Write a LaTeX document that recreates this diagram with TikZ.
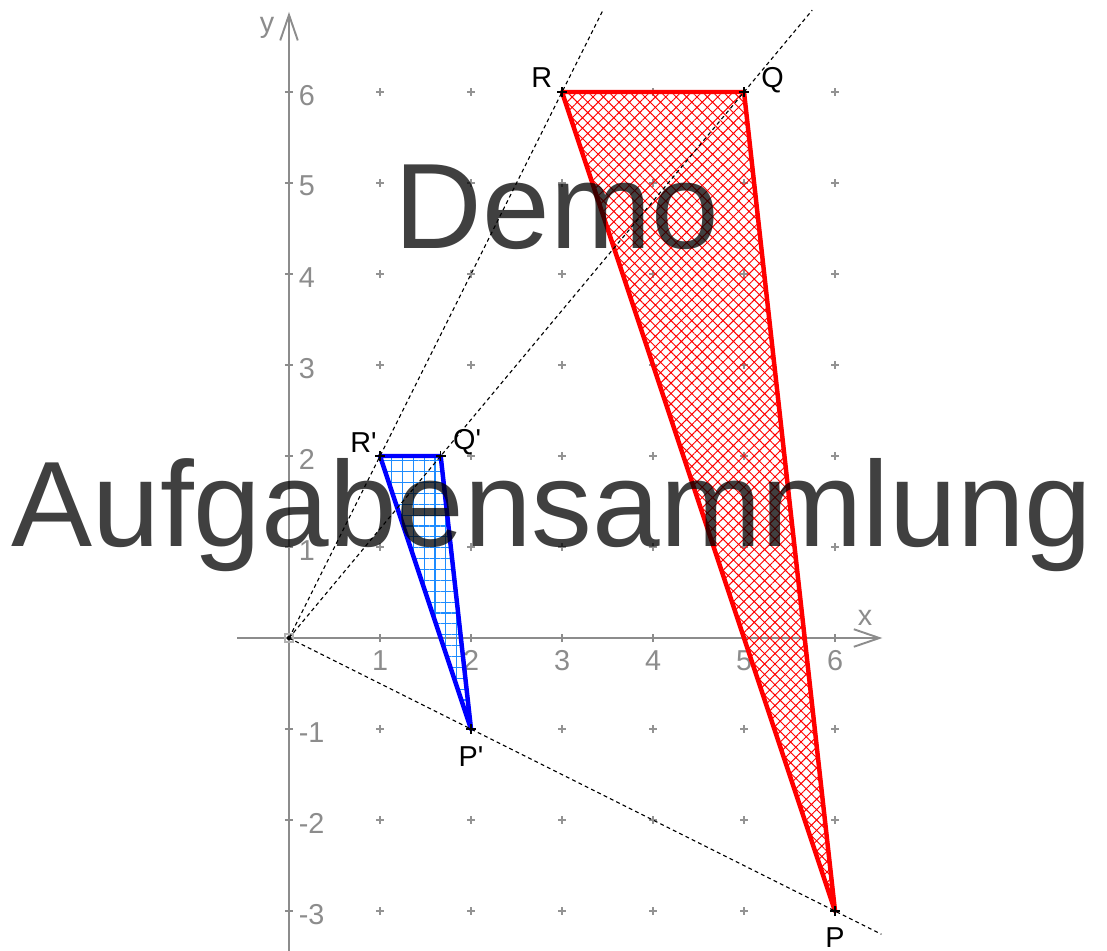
\documentclass[tikz,border=0pt]{standalone}
\usepackage{fontspec}
\setmainfont{Liberation Sans}
\usetikzlibrary{arrows.meta,positioning,calc,patterns.meta}

\begin{document}
\begin{tikzpicture}[font=\fontsize{9}{10}\selectfont,
  axis/.style={draw=gray!90,line width=.6pt,-{Straight Barb[length=8pt,width=5.5pt]}},
  axtick/.style={gray!90,line width=.5pt},
  gridmark/.style={gray!85,line width=.45pt},
  num/.style={text=gray!90,inner sep=0pt},
  lab/.style={inner sep=0pt},
  ray/.style={black,line width=.35pt,dash pattern=on 1.2pt off 1pt},
  ptmark/.style={black,line width=.5pt},
  orig/.style={red,line width=1.4pt,line join=round,pattern={Hatch[angle=45,distance=2.3pt,line width=.3pt]},pattern color=red},
  img/.style={blue,line width=1.4pt,line join=round,pattern={Hatch[angle=0,distance=3.4pt,line width=.35pt]},pattern color={rgb,255:red,30;green,140;blue,255}},
  wm/.style={font=\fontsize{38}{40}\selectfont,text=black,text opacity=.75,inner sep=0pt,anchor=base}]
\useasboundingbox (-3.176,-3.429) rectangle (8.989,7.011);
% grid points
\foreach \x in {1,...,6} \foreach \y in {-3,...,6} {
  \ifnum\y=0\else \draw[gridmark] (\x,\y) +(-.04,0) -- +(.04,0) (\x,\y) +(0,-.04) -- +(0,.04); \fi}
% axes
\coordinate (O) at (0,0);
\coordinate (xl) at (-.57,0); \coordinate (xr) at (6.52,0);
\coordinate (yb) at (0,-3.45); \coordinate (yt) at (0,6.88);
\draw[axis] (xl) -- (xr); \draw[axis] (yb) -- (yt);
\foreach \x in {1,...,6} {\draw[axtick] (\x,-.045) -- (\x,.045); \node[num,anchor=north] at (\x,-.13) {\x};}
\foreach \y in {-3,-2,-1,1,2,3,4,5,6} {\draw[axtick] (-.045,\y) -- (.045,\y); \node[num,anchor=west] at (.1,\y-.035) {\y};}
\node[num] (xname) at (6.33,.22) {x};
\node[num] (yname) at (-.24,6.70) {y};
\draw[gray!60,line width=.4pt] (O) +(-.045,-.045) rectangle +(.045,.045);
\fill (O) circle (.025);
% triangles
\coordinate (P) at (6,-3); \coordinate (Q) at (5,6); \coordinate (R) at (3,6);
\coordinate (Ps) at ($(O)!1/3!(P)$); \coordinate (Qs) at ($(O)!1/3!(Q)$); \coordinate (Rs) at ($(O)!1/3!(R)$);
\draw[orig] (P) -- (Q) -- (R) -- cycle;
\draw[img] (Ps) -- (Qs) -- (Rs) -- cycle;
% rays through the centre
\coordinate (Pend) at ($(O)!1.085!(P)$); \coordinate (Qend) at ($(O)!1.15!(Q)$); \coordinate (Rend) at ($(O)!1.15!(R)$);
\draw[ray] (O) -- (Pend); \draw[ray] (O) -- (Qend); \draw[ray] (O) -- (Rend);
\foreach \p in {P,Q,R,Ps,Qs,Rs} \draw[ptmark] (\p) +(-.055,0) -- +(.055,0) (\p) +(0,-.055) -- +(0,.055);
\node[lab,below=1.8mm of P] (Plab) {P};
\node[lab,above right=-.2mm and 1.85mm of Q] (Qlab) {Q};
\node[lab,above left=.4mm and 1mm of R] (Rlab) {R};
\node[lab,below=1.9mm of Ps] (Pslab) {P\textquotesingle};
\node[lab,above right=.1mm and 1.3mm of Qs] (Qslab) {Q\textquotesingle};
\node[lab,above left=.3mm and .3mm of Rs] (Rslab) {R\textquotesingle};
% watermark
\node[wm] (demo) at (2.945,4.275) {Demo};
\node[wm] (aufg) at (2.89,1.01) {Aufgabensammlung};
\end{tikzpicture}
\end{document}
